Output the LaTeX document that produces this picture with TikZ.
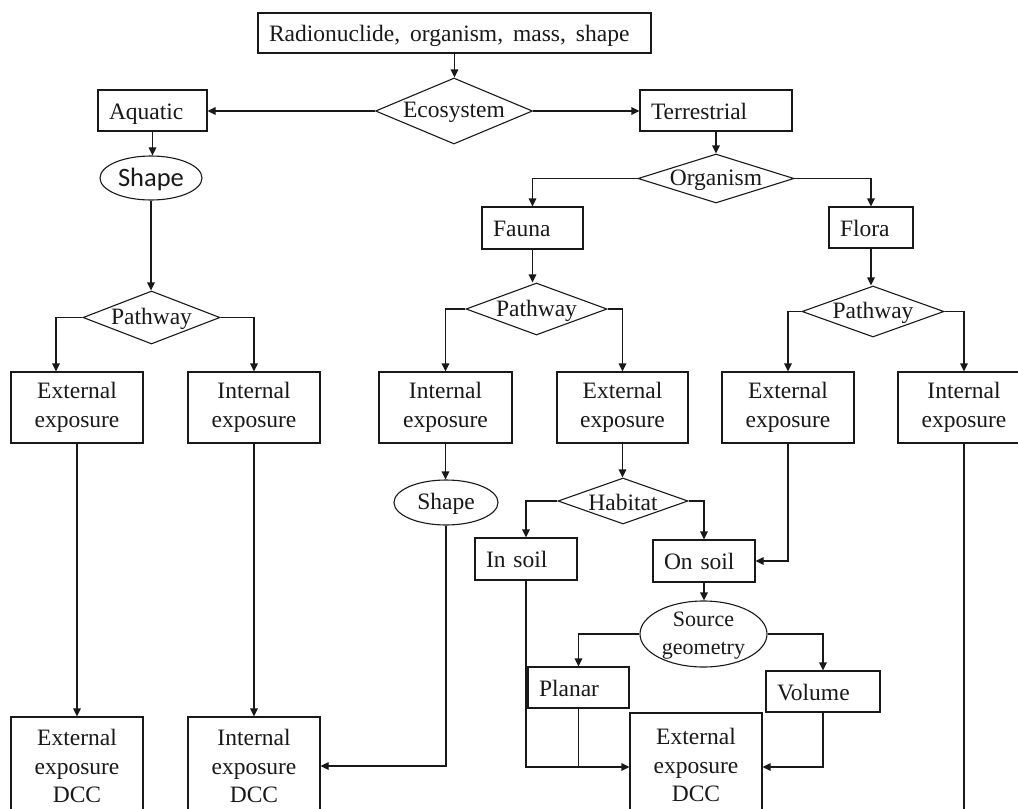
\documentclass[tikz,border=0pt]{standalone}
\usepackage{fontspec}
\setmainfont{Liberation Serif}
\newfontfamily\calibfont{Carlito}
\usetikzlibrary{shapes.geometric,arrows.meta}
\definecolor{ink}{RGB}{25,25,25}
\begin{document}
\begin{tikzpicture}[x=1pt,y=-1pt,
  every node/.style={font=\fontsize{23.5}{28.5}\selectfont, text=ink},
  every label/.style={yshift=-1.5pt},
  frame/.style={draw=ink, line width=1.1pt, inner sep=0pt},
  cbox/.style={frame, rectangle, align=center, minimum width=132pt, minimum height=71pt},
  lbox/.style={frame, rectangle, align=left, inner xsep=11pt, inner ysep=0pt,
    text height=17pt, text depth=0pt, minimum height=41pt},
  dec/.style={frame, diamond},
  oval/.style={frame, ellipse},
  link/.style={draw=ink, line width=1.1pt},
  arr/.style={link, -{Triangle[length=8pt,width=7.5pt]}},
]
\useasboundingbox (0,0) rectangle (1018,809);
\fill[white] (0,0) rectangle (1018,809);
\clip (0,0) rectangle (1018,809);

% ---------- top of the tree ----------
\node[lbox, text width=371pt, minimum height=40pt] (src) at (454.5,33)
  {Radionuclide,\hspace{10pt}organism,\hspace{10pt}mass,\hspace{10pt}shape};
\node[dec, minimum width=157pt, minimum height=66pt,
  label={[name=ecoT]center:Ecosystem}] (eco) at (454,111) {};
\node[lbox, text width=87pt] (aq) at (152.5,110.5) {Aquatic};
\node[lbox, text width=130pt] (terr) at (716,110.5) {Terrestrial};

% ---------- aquatic branch ----------
\node[oval, minimum width=102pt, minimum height=44pt,
  label={[name=shp1T, font=\calibfont\fontsize{26.5}{30}\selectfont]center:Shape}] (shp1) at (151,178) {};
\node[dec, minimum width=137pt, minimum height=53pt,
  label={[name=pw1T]center:Pathway}] (pw1) at (151.5,317.5) {};
\node[cbox] (ext1) at (77,407.5) {External\\exposure};
\node[cbox] (int1) at (254,407.5) {Internal\\exposure};
\node[cbox, minimum height=98pt] (dcc1) at (77,766) {External\\exposure\\DCC};
\node[cbox, minimum height=98pt] (dcc2) at (254,766) {Internal\\exposure\\DCC};

% ---------- terrestrial branch ----------
\node[dec, minimum width=156pt, minimum height=49pt,
  label={[name=orgT]center:Organism}] (org) at (716,178.5) {};
\node[lbox, text width=79pt, minimum height=42pt] (fauna) at (532.5,228) {Fauna};
\node[lbox, text width=62pt] (flora) at (871,227.5) {Flora};

% fauna
\node[dec, minimum width=141pt, minimum height=52pt,
  label={[name=pw2T]center:Pathway}] (pw2) at (536.5,309) {};
\node[cbox, minimum width=133pt] (int3) at (445.5,407.5) {Internal\\exposure};
\node[cbox, minimum width=131pt] (ext3) at (622.5,407.5) {External\\exposure};
\node[oval, minimum width=104pt, minimum height=45pt,
  label={[name=shp2T]center:Shape}] (shp2) at (446,502.5) {};
\node[dec, minimum width=130pt, minimum height=46pt,
  label={[name=habT]center:Habitat}] (hab) at (623,501) {};
\node[lbox, text width=80pt, minimum height=42pt] (insoil) at (526,559) {In soil};
\node[lbox, text width=80pt, minimum height=42pt] (onsoil) at (704,561) {On soil};
\node[oval, minimum width=127pt, minimum height=66pt,
  label={[name=geoT, align=center, font=\fontsize{22}{28.5}\selectfont]center:Source\\geometry}] (geo) at (703.5,634) {};
\node[lbox, text width=79pt] (planar) at (578.5,687.5) {Planar};
\node[lbox, text width=92pt, minimum height=41pt] (volume) at (823,691.5) {Volume};
\node[cbox, minimum width=132pt, minimum height=104pt] (dcc3) at (696,765) {External\\exposure\\DCC};
\coordinate (dcc3in) at ([yshift=-2pt]dcc3.west);
\coordinate (dcc3inR) at ([yshift=-2pt]dcc3.east);

% flora
\node[dec, minimum width=142pt, minimum height=51pt,
  label={[name=pw3T]center:Pathway}] (pw3) at (873,311.5) {};
\node[cbox] (ext4) at (788,407.5) {External\\exposure};
\node[cbox] (int4) at (964,407.5) {Internal\\exposure};
\coordinate (int4end) at (964,830);

% ---------- connectors ----------
\draw[arr] (src.south) -- (src.south |- eco.north);
\draw[arr] (eco.west) -- (eco.west -| aq.east);
\draw[arr] (eco.east) -- (eco.east -| terr.west);

\draw[arr] (aq.south) -- (aq.south |- shp1.north);
\draw[arr] (shp1.south) -- (shp1.south |- pw1.north);
\draw[arr] (pw1.west) -| ([xshift=-21pt]ext1.north);
\draw[arr] (pw1.east) -| (int1.north);
\draw[arr] (ext1.south) -- (dcc1.north);
\draw[arr] (int1.south) -- (dcc2.north);

\draw[arr] (terr.south) -- (terr.south |- org.north);
\draw[arr] (org.west) -| (fauna.north);
\draw[arr] (org.east) -| (flora.north);

\draw[arr] (fauna.south) -- (fauna.south |- pw2.north);
\draw[arr] (pw2.west) -| (int3.north);
\draw[arr] (pw2.east) -| (ext3.north);
\draw[arr] (int3.south) -- (int3.south |- shp2.north);
\draw[arr] (shp2.south) |- (dcc2.east);
\draw[arr] (ext3.south) -- (ext3.south |- hab.north);
\draw[arr] (hab.west) -| (insoil.north);
\draw[arr] (hab.east) -| (onsoil.north);
\draw[arr] (onsoil.south) -- (onsoil.south |- geo.north);
\draw[arr] (geo.west) -| (planar.north);
\draw[arr] (geo.east) -| (volume.north);
\draw[arr] (insoil.south) |- (dcc3in);
\draw[link] (planar.south) -- (planar.south |- dcc3in);
\draw[arr] (volume.south) |- (dcc3inR);

\draw[arr] (flora.south) -- (flora.south |- pw3.north);
\draw[arr] (pw3.west) -| (ext4.north);
\draw[arr] (pw3.east) -| (int4.north);
\draw[arr] (ext4.south) |- (onsoil.east);
\draw[link] (int4.south) -- (int4end);
\end{tikzpicture}
\end{document}
